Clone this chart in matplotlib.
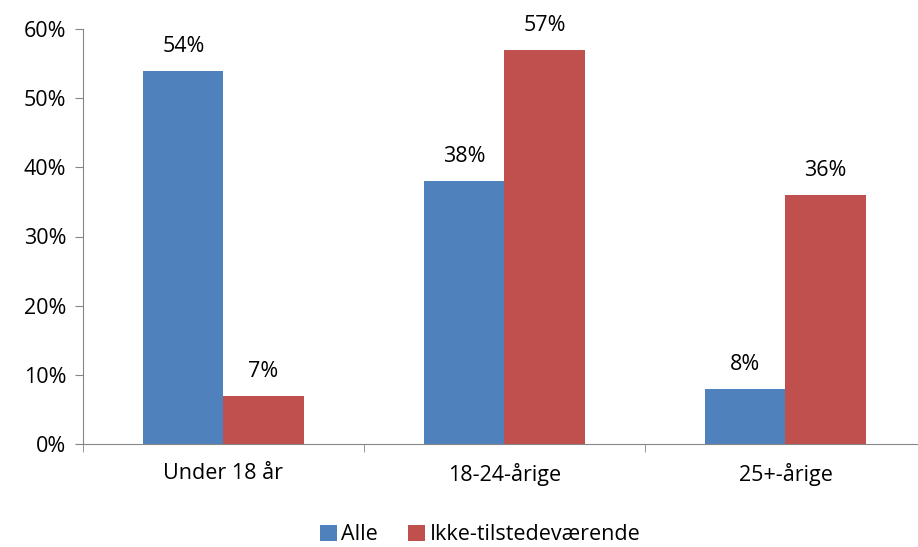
import numpy as np
import matplotlib.pyplot as plt
from matplotlib.ticker import PercentFormatter

# Data
categories = ["Under 18 år", "18-24-årige", "25+-årige"]
alle = [54, 38, 8]
ikke = [7, 57, 36]
series_names = ["Alle", "Ikke-tilstedeværende"]

plt.rcParams["font.family"] = ["Open Sans", "DejaVu Sans"]
fs = 15.5

fig = plt.figure(figsize=(9.18, 5.47), dpi=100)
ax = fig.add_axes([83 / 918, 1 - 444 / 547, 843 / 918, 415 / 547])

x = np.arange(len(categories))
w = 0.285
b1 = ax.bar(x - w / 2, alle, w, color="#4F81BD", label=series_names[0])
b2 = ax.bar(x + w / 2, ikke, w, color="#C0504D", label=series_names[1])

for bars in (b1, b2):
    for rect in bars:
        h = rect.get_height()
        ax.text(rect.get_x() + rect.get_width() / 2, h + 2.0, f"{h:.0f}%",
                ha="center", va="bottom", fontsize=fs)

ax.set_xlim(-0.5, 2.5)
ax.set_ylim(0, 60)
ax.set_yticks(range(0, 61, 10))
ax.yaxis.set_major_formatter(PercentFormatter(decimals=0))
ax.set_xticks(x)
ax.set_xticklabels(categories)
ax.set_xticks([-0.5, 0.5, 1.5, 2.5], minor=True)
ax.tick_params(axis="x", which="major", length=0, pad=14, labelsize=fs)
ax.tick_params(axis="x", which="minor", length=6, color="#868686", direction="out")
ax.tick_params(axis="y", length=6, color="#868686", labelsize=fs, pad=6)

for s in ["top", "right"]:
    ax.spines[s].set_visible(False)
for s in ["left", "bottom"]:
    ax.spines[s].set_color("#868686")

fig.legend(handles=[b1, b2], labels=series_names, loc="center",
           bbox_to_anchor=(480 / 918, 1 - 535 / 547), ncol=2, frameon=False,
           fontsize=fs, handlelength=0.8, handleheight=0.8, handletextpad=0.2,
           columnspacing=1.4)

fig.savefig("out.png", dpi=100)
